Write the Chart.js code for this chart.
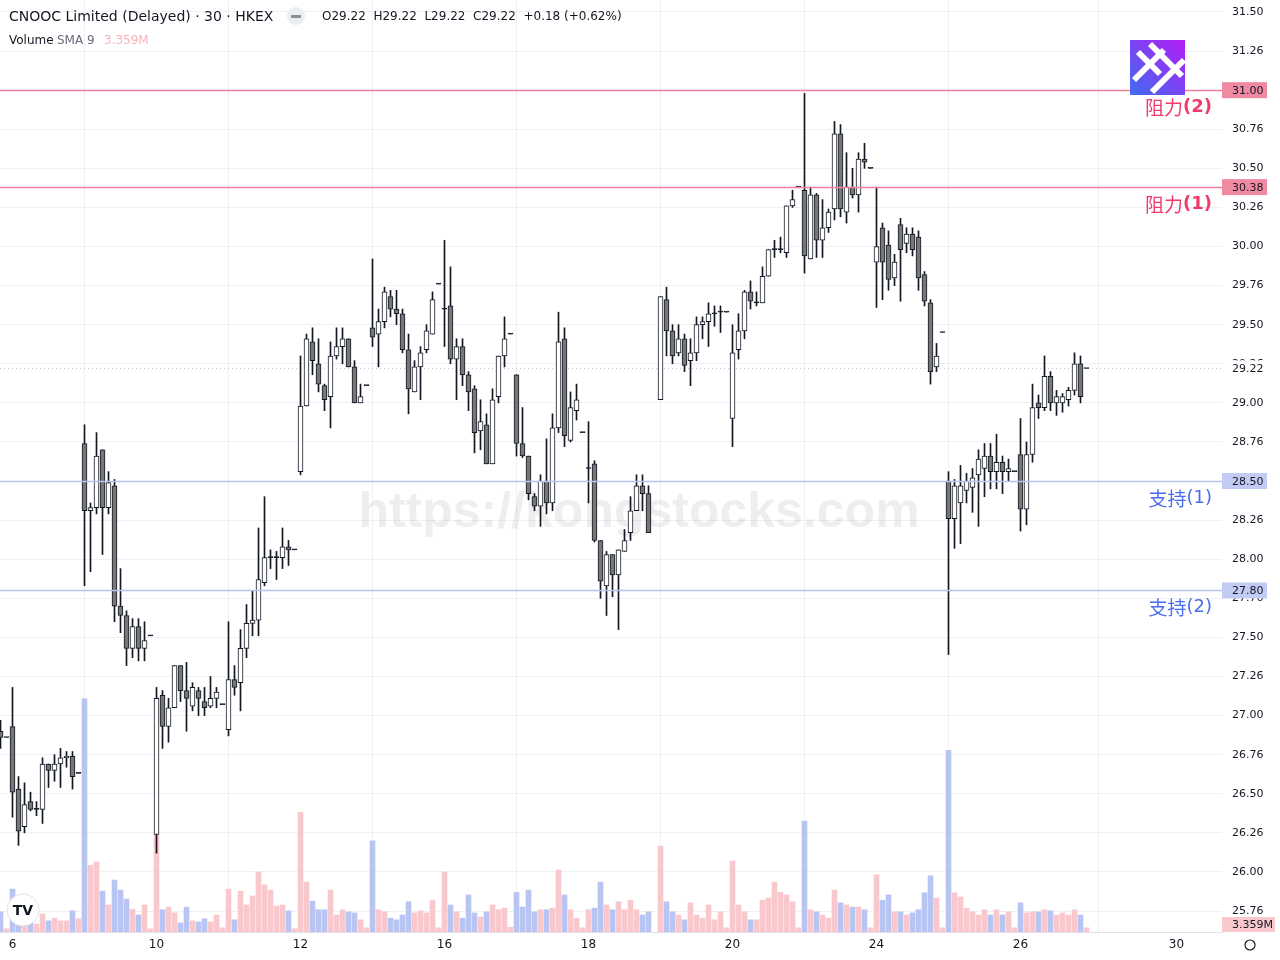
<!doctype html>
<html>
<head>
<meta charset="utf-8">
<title>CNOOC 30m</title>
<script src="https://cdn.jsdelivr.net/npm/chart.js@4.4.1/dist/chart.umd.min.js"></script>
<style>
  html, body { margin: 0; padding: 0; background: #fff; }
  #wrap { position: relative; width: 1280px; height: 960px; }
</style>
</head>
<body>
<div id="wrap"><canvas id="chart" width="1280" height="960"></canvas></div>
<script>
// 30-minute bars, index 0..181 (12 bars per trading day, last one is the closing auction)
var opens = [
  26.90,26.86,26.93,26.53,26.29,26.45,26.40,26.40,26.69,26.65,26.69,26.73,26.74,26.63,
  28.74,28.31,28.33,28.70,28.33,28.47,27.70,27.64,27.43,27.57,27.43,27.51,
  26.24,27.13,26.93,27.05,27.32,27.16,27.06,27.16,27.09,27.06,27.11,27.07,
  26.91,27.23,27.21,27.43,27.59,27.61,27.85,28.01,28.01,28.01,28.08,28.06,
  28.56,28.98,29.39,29.25,29.11,29.04,29.30,29.36,29.41,29.23,29.00,29.11,
  29.48,29.44,29.52,29.68,29.60,29.57,29.34,29.07,29.23,29.34,29.44,29.76,
  29.60,29.62,29.28,29.36,29.18,29.09,28.82,28.86,28.61,29.04,29.30,29.44,
  29.18,28.74,28.66,28.40,28.34,28.50,28.36,28.84,29.41,28.76,28.95,28.81,
  28.58,28.61,28.12,27.83,28.03,27.90,28.05,28.17,28.31,28.47,28.42,null,
  29.02,29.66,29.46,29.32,29.41,29.27,29.32,29.50,29.52,29.57,29.58,29.58,
  28.90,29.34,29.46,29.71,29.64,29.64,29.81,29.98,29.98,29.96,30.26,30.38,
  30.36,29.92,30.33,30.04,30.12,30.24,30.72,30.22,30.38,30.33,30.56,30.50,
  29.90,30.12,30.01,29.80,30.14,30.02,30.08,30.06,29.82,29.64,29.23,29.45,
  28.50,28.26,28.36,28.44,28.46,28.54,28.58,28.66,28.56,28.62,28.56,28.56,
  28.67,28.32,28.67,29.00,28.97,29.17,29.00,29.00,29.02,29.08,29.25,29.22
];
var highs = [
  26.97,26.86,27.18,26.61,26.57,26.51,26.45,26.73,26.69,26.75,26.79,26.77,26.77,26.63,
  28.86,28.36,28.81,28.70,28.56,28.51,27.94,27.67,27.62,27.62,27.60,27.51,
  27.18,27.16,27.11,27.32,27.32,27.34,27.21,27.18,27.18,27.25,27.18,27.07,
  27.60,27.32,27.55,27.71,27.80,28.20,28.40,28.06,28.05,28.20,28.12,28.06,
  29.30,29.44,29.48,29.41,29.12,29.39,29.48,29.48,29.41,29.27,29.12,29.11,
  29.92,29.60,29.74,29.72,29.72,29.60,29.44,29.27,29.36,29.50,29.71,29.76,
  30.04,29.87,29.41,29.41,29.20,29.11,29.02,28.93,29.09,29.30,29.55,29.44,
  29.18,28.97,28.66,28.42,28.54,28.77,28.93,29.58,29.48,29.07,29.12,28.81,
  28.88,28.63,28.12,28.05,28.03,28.06,28.19,28.40,28.54,28.54,28.47,null,
  29.68,29.74,29.50,29.50,29.44,29.41,29.55,29.55,29.64,29.62,29.62,29.58,
  29.50,29.57,29.72,29.78,29.71,29.87,29.98,30.04,30.06,30.26,30.36,30.38,
  30.98,30.38,30.34,30.30,30.24,30.80,30.78,30.60,30.50,30.60,30.66,30.50,
  30.38,30.15,30.10,29.95,30.18,30.12,30.12,30.10,29.84,29.66,29.38,29.45,
  28.56,28.51,28.60,28.55,28.58,28.70,28.74,28.74,28.80,28.66,28.64,28.56,
  28.90,28.75,29.12,29.05,29.30,29.20,29.08,29.06,29.10,29.32,29.30,29.22
];
var lows = [
  26.79,26.86,26.35,26.17,26.25,26.39,26.36,26.31,26.54,26.58,26.54,26.67,26.53,26.63,
  27.83,27.92,28.29,28.03,28.29,27.60,27.53,27.32,27.37,27.35,27.35,27.51,
  26.12,26.79,26.83,27.05,27.09,26.90,27.03,27.00,27.00,27.05,27.05,27.07,
  26.87,27.13,27.03,27.37,27.51,27.51,27.83,27.94,27.87,27.94,27.96,28.06,
  28.54,28.98,29.18,29.07,28.95,28.84,29.28,29.25,29.23,29.00,29.00,29.11,
  29.36,29.23,29.48,29.55,29.50,29.32,28.93,29.07,29.02,29.32,29.44,29.76,
  29.36,29.25,29.02,29.11,28.95,28.68,28.70,28.61,28.61,29.00,29.23,29.44,
  28.66,28.65,28.38,28.31,28.21,28.29,28.31,28.81,28.72,28.75,28.89,28.81,
  28.36,28.11,27.75,27.64,27.76,27.55,28.05,28.12,28.31,28.31,28.17,null,
  29.02,29.30,29.25,29.30,29.20,29.11,29.27,29.41,29.36,29.49,29.45,29.58,
  28.72,29.28,29.41,29.60,29.62,29.64,29.81,29.93,29.96,29.93,30.25,30.38,
  29.83,29.92,29.93,29.93,30.09,30.17,30.19,30.15,30.31,30.22,30.50,30.50,
  29.61,29.66,29.72,29.75,29.65,29.96,29.94,29.72,29.62,29.12,29.20,29.45,
  27.39,28.07,28.10,28.36,28.30,28.21,28.40,28.45,28.45,28.42,28.50,28.56,
  28.18,28.22,28.62,28.90,28.95,28.95,28.92,28.94,28.98,29.05,29.00,29.22
];
var closes = [
  26.86,26.86,26.51,26.26,26.43,26.40,26.40,26.69,26.65,26.69,26.73,26.74,26.61,26.63,
  28.31,28.33,28.66,28.33,28.49,27.70,27.64,27.43,27.57,27.43,27.48,27.51,
  27.11,26.93,27.05,27.32,27.16,27.11,27.18,27.11,27.05,27.11,27.15,27.07,
  27.23,27.18,27.43,27.59,27.61,27.87,28.01,28.01,28.01,28.08,28.06,28.06,
  28.98,29.41,29.27,29.12,29.02,29.30,29.36,29.41,29.23,29.00,29.04,29.11,
  29.42,29.52,29.71,29.60,29.57,29.34,29.09,29.23,29.32,29.46,29.66,29.76,
  29.60,29.28,29.36,29.18,29.07,28.81,28.88,28.61,29.02,29.30,29.41,29.44,
  28.74,28.66,28.42,28.34,28.50,28.36,28.84,29.39,28.79,28.97,29.02,28.81,
  28.58,28.12,27.86,28.03,27.90,28.06,28.12,28.31,28.47,28.42,28.17,null,
  29.68,29.46,29.30,29.41,29.24,29.32,29.50,29.52,29.57,29.57,29.58,29.58,
  29.32,29.46,29.71,29.65,29.64,29.81,29.98,29.98,29.98,30.26,30.30,30.38,
  29.94,30.33,30.04,30.12,30.22,30.72,30.24,30.38,30.33,30.56,30.54,30.50,
  30.00,29.90,29.79,29.90,29.98,30.08,29.98,29.80,29.65,29.20,29.30,29.45,
  28.26,28.47,28.47,28.50,28.52,28.64,28.66,28.56,28.62,28.56,28.58,28.56,
  28.32,28.67,28.97,28.97,29.17,29.00,29.04,29.04,29.08,29.25,29.04,29.22
];
// volume, millions of shares
var volumes = [
  3.8,0.6,8.1,2.8,2.3,1.9,1.5,3.4,2.1,2.6,2.1,2.1,4.0,2.5,
  44.0,12.6,13.2,7.7,5.1,9.8,7.9,6.2,4.3,3.2,5.1,0.6,
  18.3,4.2,4.7,3.6,1.7,4.7,2.1,1.9,2.5,1.9,3.2,0.8,
  8.1,2.3,7.7,5.1,6.8,11.3,8.9,7.9,4.9,5.1,4.0,0.6,
  22.6,9.4,5.8,4.2,4.2,7.9,3.2,4.2,3.8,3.6,2.3,0.8,
  17.2,4.2,3.8,2.6,2.3,3.2,5.7,3.6,4.0,3.6,6.0,0.8,
  11.3,5.1,3.8,2.6,7.0,3.6,2.8,3.8,5.1,4.2,4.5,0.9,
  7.5,4.7,7.9,3.8,4.2,4.2,4.5,11.7,7.0,4.2,2.6,0.8,
  4.2,4.5,9.4,5.1,4.2,5.7,4.2,6.0,4.2,3.2,3.8,null,
  16.2,5.7,3.8,3.2,2.3,5.5,3.2,2.6,5.1,2.3,3.8,0.8,
  13.4,5.1,3.8,2.3,2.3,6.0,6.4,9.4,7.5,7.0,5.7,0.8,
  20.9,4.2,3.8,3.2,2.6,7.9,5.5,5.1,4.7,4.7,4.2,0.8,
  10.8,6.0,7.0,3.8,3.8,3.2,3.6,4.2,7.4,10.6,6.4,0.8,
  34.3,7.4,6.6,4.5,3.8,3.2,4.2,3.2,4.2,3.2,3.8,0.8,
  5.5,3.6,3.8,3.8,4.2,4.0,3.2,3.6,3.2,4.2,3.2,0.8
];

var dayTickIndex = [2, 26, 50, 74, 98, 122, 146, 170, 196];
var dayTickLabels = ['6', '10', '12', '16', '18', '20', '24', '26', '30'];

var priceTicks = [31.5,31.25,31,30.75,30.5,30.25,30,29.75,29.5,29.25,29,28.75,28.5,28.25,28,27.75,27.5,27.25,27,26.75,26.5,26.25,26,25.75];
var priceTickLabels = ['31.50','31.26','31.00','30.76','30.50','30.26','30.00','29.76','29.50','29.26','29.00','28.76','28.50','28.26','28.00','27.76','27.50','27.26','27.00','26.76','26.50','26.26','26.00','25.76'];

var levelPrices = [31.00, 30.38, 28.50, 27.80];
var levelNames = ['阻力', '阻力', '支持', '支持'];
var levelNums = ['(2)', '(1)', '(1)', '(2)'];
var levelKinds = ['res', 'res', 'sup', 'sup'];

var lastPrice = 29.22;
var volumeSma = '3.359M';

var PINK_LINE = '#f0809c', BLUE_LINE = '#b8c3f0';
var UP_BODY = '#ffffff', DOWN_BODY = '#777777', INK = '#131722';

var wickData = [], bodyData = [], bodyColors = [], volData = [], volColors = [];
for (var i = 0; i < opens.length; i++) {
  if (opens[i] === null) continue;
  var o = opens[i], c = closes[i];
  wickData.push({x: i, y: [lows[i], highs[i]]});
  bodyData.push({x: i, y: [Math.min(o, c), Math.max(o, c)]});
  bodyColors.push(o === c ? INK : (c > o ? UP_BODY : DOWN_BODY));
  volData.push({x: i, y: volumes[i]});
  volColors.push(c >= o ? '#f9c8cd' : '#b8c5f2');
}

var overlay = {
  id: 'overlay',
  beforeDatasetsDraw: function(chart) {
    var ctx = chart.ctx;
    ctx.save();
    ctx.fillStyle = 'rgba(120,120,120,0.13)';
    ctx.font = 'bold 50px "Liberation Sans", Arial, sans-serif';
    ctx.textAlign = 'center';
    ctx.textBaseline = 'middle';
    ctx.fillText('https://kongstocks.com', 639, 513);
    // current price dotted line
    var yl = chart.scales.y.getPixelForValue(lastPrice);
    ctx.strokeStyle = '#c8cbd3';
    ctx.setLineDash([1, 3]);
    ctx.lineWidth = 1;
    ctx.beginPath();
    ctx.moveTo(0, Math.round(yl) + 0.5);
    ctx.lineTo(chart.chartArea.right, Math.round(yl) + 0.5);
    ctx.stroke();
    ctx.restore();
  },
  afterDatasetsDraw: function(chart) {
    var ctx = chart.ctx, ys = chart.scales.y, area = chart.chartArea;
    ctx.save();
    for (var k = 0; k < levelPrices.length; k++) {
      var y = Math.round(ys.getPixelForValue(levelPrices[k])) + 0.5;
      var res = levelKinds[k] === 'res';
      ctx.strokeStyle = res ? PINK_LINE : BLUE_LINE;
      ctx.lineWidth = 1.5;
      ctx.beginPath();
      ctx.moveTo(0, y);
      ctx.lineTo(area.right, y);
      ctx.stroke();
      // level name under the line, the number part bold for resistance
      ctx.fillStyle = res ? '#f23a6a' : '#4a6cf0';
      ctx.textAlign = 'right';
      ctx.textBaseline = 'middle';
      ctx.font = (res ? 'bold ' : '') + '18px "DejaVu Sans", sans-serif';
      var numW = ctx.measureText(levelNums[k]).width;
      ctx.fillText(levelNums[k], 1212, y + 17);
      ctx.font = '19px "Noto Sans CJK SC", sans-serif';
      ctx.fillText(levelNames[k], 1212 - numW, y + 17);
    }
    ctx.restore();
  },
  afterDraw: function(chart) {
    var ctx = chart.ctx, ys = chart.scales.y, area = chart.chartArea;
    ctx.save();
    ctx.font = '11px "DejaVu Sans", sans-serif';
    ctx.textBaseline = 'middle';
    ctx.textAlign = 'left';
    // current price label
    var yl = ys.getPixelForValue(lastPrice);
    ctx.fillStyle = '#ffffff';
    ctx.fillRect(area.right + 1, yl - 8, 56, 16);
    ctx.fillStyle = INK;
    ctx.fillText(lastPrice.toFixed(2), 1232, yl + 1);
    for (var k = 0; k < levelPrices.length; k++) {
      var y = ys.getPixelForValue(levelPrices[k]);
      var res = levelKinds[k] === 'res';
      ctx.fillStyle = res ? '#f08aa2' : '#c1cbf4';
      ctx.fillRect(area.right, y - 8, 45, 16);
      ctx.fillStyle = INK;
      ctx.fillText(levelPrices[k].toFixed(2), 1232, y + 1);
    }
    // volume SMA label
    ctx.fillStyle = '#f9c8cd';
    ctx.fillRect(area.right, 917, 53, 15);
    ctx.fillStyle = INK;
    ctx.fillText(volumeSma, 1232, 925);

    // header
    ctx.fillStyle = INK;
    ctx.font = '14px "DejaVu Sans", sans-serif';
    ctx.fillText('CNOOC Limited (Delayed) · 30 · HKEX', 9, 17);
    ctx.fillStyle = '#eceef2';
    ctx.beginPath(); ctx.arc(296, 16, 9, 0, Math.PI * 2); ctx.fill();
    ctx.fillStyle = '#8a8e99';
    ctx.fillRect(291, 15, 10, 3);
    ctx.font = '12px "DejaVu Sans", sans-serif';
    ctx.fillStyle = INK;
    ctx.fillText('O29.22  H29.22  L29.22  C29.22  +0.18 (+0.62%)', 322, 17);
    ctx.fillText('Volume', 9, 41);
    ctx.fillStyle = '#6a6d78';
    ctx.fillText('SMA 9', 57, 41);
    ctx.fillStyle = '#f7b3bd';
    ctx.fillText(volumeSma, 104, 41);

    // logo top right
    var g = ctx.createLinearGradient(1130, 95, 1185, 40);
    g.addColorStop(0, '#3f6df0');
    g.addColorStop(1, '#b41cf5');
    ctx.fillStyle = g;
    ctx.fillRect(1130, 40, 55, 55);
    ctx.strokeStyle = '#ffffff';
    ctx.lineWidth = 6;
    ctx.beginPath();
    ctx.moveTo(1138, 52); ctx.lineTo(1160, 74);
    ctx.moveTo(1150, 44); ctx.lineTo(1182, 76);
    ctx.moveTo(1134, 80); ctx.lineTo(1164, 50);
    ctx.moveTo(1152, 92); ctx.lineTo(1184, 60);
    ctx.stroke();

    // tradingview badge bottom left
    ctx.fillStyle = '#ffffff';
    ctx.strokeStyle = '#e0e3eb';
    ctx.lineWidth = 1;
    ctx.beginPath(); ctx.arc(23, 910, 16, 0, Math.PI * 2); ctx.fill(); ctx.stroke();
    ctx.fillStyle = INK;
    ctx.font = 'bold 14px "DejaVu Sans", sans-serif';
    ctx.textAlign = 'center';
    ctx.fillText('TV', 23, 911);

    // settings icon
    ctx.strokeStyle = INK;
    ctx.lineWidth = 1.2;
    ctx.beginPath(); ctx.arc(1250, 945, 5, 0, Math.PI * 2); ctx.stroke();
    ctx.restore();
  }
};

var config = {
  type: 'bar',
  data: {
    datasets: [
      {
        data: bodyData,
        backgroundColor: bodyColors,
        borderColor: INK,
        borderWidth: 1,
        borderSkipped: false,
        barThickness: 5,
        minBarLength: 1,
        grouped: false,
        order: 1,
        yAxisID: 'y'
      },
      {
        data: wickData,
        backgroundColor: INK,
        barThickness: 1,
        grouped: false,
        order: 2,
        yAxisID: 'y'
      },
      {
        data: volData,
        backgroundColor: volColors,
        barThickness: 5,
        grouped: false,
        order: 3,
        yAxisID: 'yv'
      }
    ]
  },
  options: {
    responsive: false,
    devicePixelRatio: 1,
    animation: false,
    layout: { padding: 0 },
    plugins: { legend: { display: false }, tooltip: { enabled: false } },
    scales: {
      x: {
        type: 'linear',
        min: -0.5 / 6,
        max: 1222 / 6 - 0.5 / 6,
        offset: false,
        afterBuildTicks: function(axis) {
          axis.ticks = dayTickIndex.map(function(v) { return {value: v}; });
        },
        afterFit: function(axis) {
          axis.height = 28;
          axis.paddingLeft = 0;
          axis.paddingRight = 0;
        },
        ticks: {
          autoSkip: false,
          maxRotation: 0,
          padding: 6,
          color: INK,
          font: { family: 'DejaVu Sans', size: 12 },
          callback: function(v) {
            var k = dayTickIndex.indexOf(v);
            return k >= 0 ? dayTickLabels[k] : '';
          }
        },
        grid: { color: '#eff0f3', drawTicks: false },
        border: { display: true, color: '#e0e3eb' }
      },
      y: {
        type: 'linear',
        position: 'right',
        min: 31.5 - 920 / 156.35,
        max: 31.5 + 12 / 156.35,
        afterBuildTicks: function(axis) {
          axis.ticks = priceTicks.map(function(v) { return {value: v}; });
        },
        afterFit: function(axis) {
          axis.width = 58;
          axis.paddingTop = 0;
          axis.paddingBottom = 0;
        },
        ticks: {
          padding: 10,
          color: INK,
          font: { family: 'DejaVu Sans', size: 11 },
          callback: function(v) {
            var k = priceTicks.indexOf(v);
            return k >= 0 ? priceTickLabels[k] : '';
          }
        },
        grid: { color: '#eff0f3', drawTicks: false },
        border: { display: false }
      },
      yv: {
        type: 'linear',
        display: false,
        min: 0,
        max: 932 / 5.3
      }
    }
  },
  plugins: [overlay]
};

window.onload = function() {
  var ctx = document.getElementById('chart').getContext('2d');
  window.myChart = new Chart(ctx, config);
};
</script>
</body>
</html>
